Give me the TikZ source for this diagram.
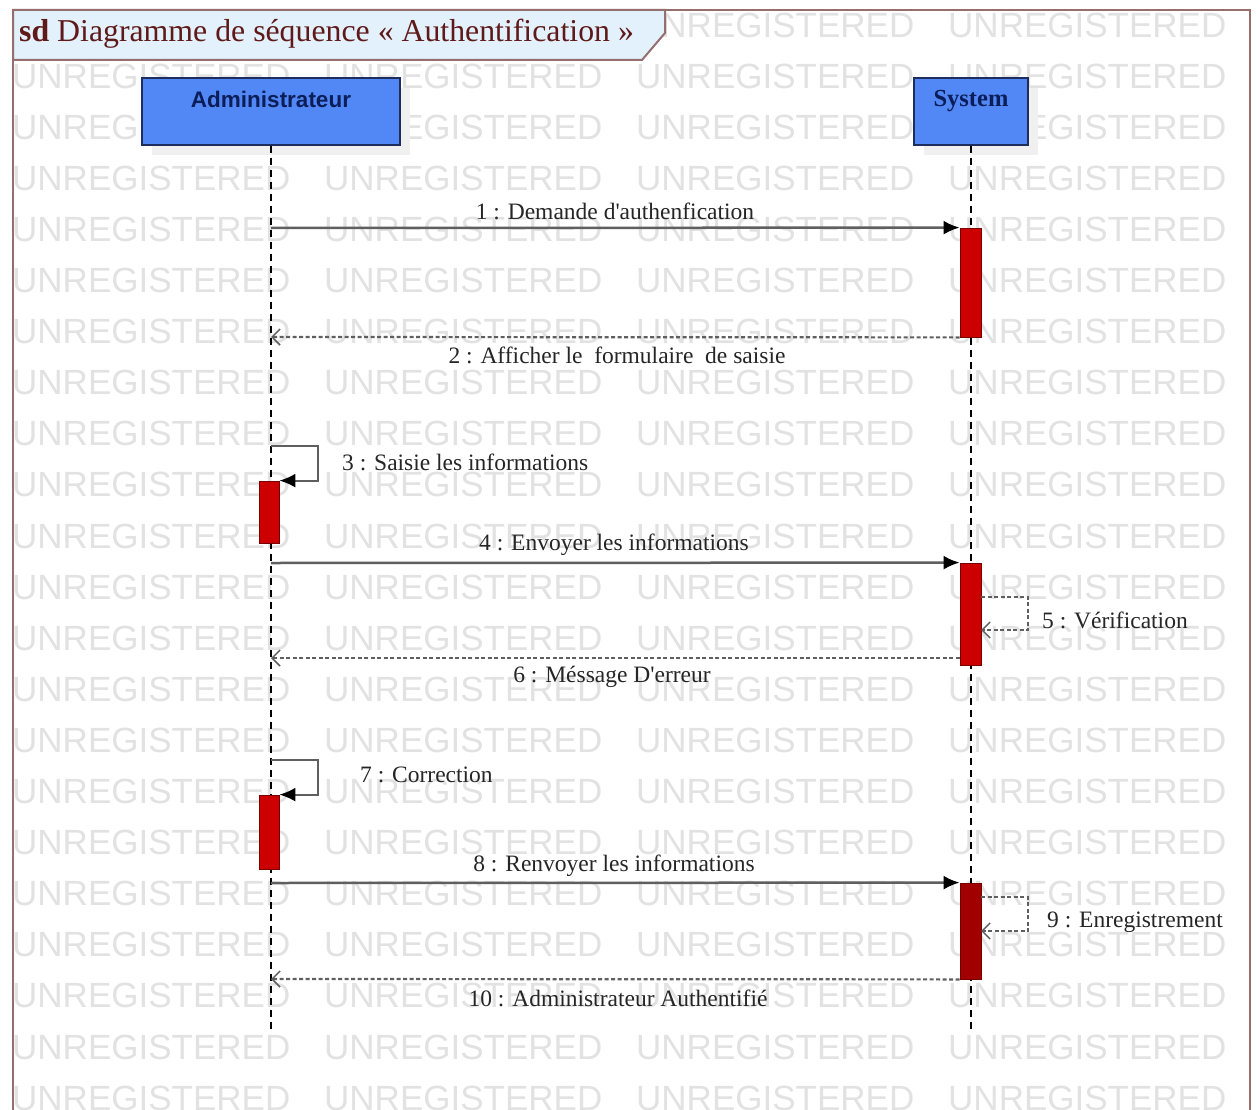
\documentclass[tikz,border=0pt]{standalone}
\usepackage{fontspec}
\usepackage{tikz}
\usetikzlibrary{arrows.meta,positioning,fit,calc}
\setmainfont{Liberation Serif}
\newfontfamily\lblfont{Liberation Serif}
\newfontfamily\boxfont{Liberation Sans}
\newfontfamily\wmfont{Liberation Sans}
\definecolor{framecol}{RGB}{150,110,110}
\definecolor{tabblue}{RGB}{226,241,251}
\definecolor{titlered}{RGB}{95,25,25}
\definecolor{boxblue}{RGB}{82,136,245}
\definecolor{boxline}{RGB}{30,45,90}
\definecolor{navy}{RGB}{12,30,90}
\definecolor{actred}{RGB}{204,0,0}
\definecolor{actdark}{RGB}{160,0,0}
\definecolor{actline}{RGB}{120,0,0}
\definecolor{msggray}{RGB}{95,95,95}
\definecolor{wmgray}{RGB}{226,226,226}

\begin{document}
\begin{tikzpicture}[x=1pt,y=-1pt,
  wmark/.style={anchor=west,inner sep=0,text=wmgray,font=\wmfont\fontsize{35}{38}\selectfont},
  actorbox/.style={draw=boxline,line width=1.5pt,fill=boxblue,minimum height=67pt,inner sep=0},
  lifeline/.style={black,line width=1.3pt,dash pattern=on 7pt off 5pt},
  actbar/.style={draw=actline,line width=0.8pt,fill=actred,inner sep=0},
  callmsg/.style={msggray,line width=2.5pt,-{Latex[length=16pt,width=14pt,color=black]}},
  retmsg/.style={msggray,line width=2.2pt,dash pattern=on 4pt off 2.5pt,
    -{Straight Barb[length=8pt,width=16pt,line width=1.5pt]}},
  msglabel/.style={inner sep=0,text=black!85,font=\lblfont\fontsize{23.5}{27}\selectfont}]
  \useasboundingbox (0,0) rectangle (1260,1110);
  \fill[white] (0,0) rectangle (1260,1110);

  % Watermark rows (top row is hidden by the tab on the left)
  \foreach \c in {2,3} {
    \node[wmark] (wm-0-\c) at ({12+312*\c},25) {UNREGISTERED};
  }
  \foreach \r in {1,...,21} {
    \foreach \c in {0,...,3} {
      \node[wmark] (wm-\r-\c) at ({12+312*\c},{25+51.1*\r}) {UNREGISTERED};
    }
  }

  % Frame and title tab
  \draw[framecol,line width=2pt] (13,1120) -- (13,10) -- (1250,10) -- (1250,1120);
  \draw[framecol,line width=2pt,fill=tabblue] (13,10) -- (665,10) -- (665,33) -- (642,60) -- (13,60) -- cycle;
  \node[anchor=west,inner sep=0,text=titlered,font=\fontsize{31.8}{36}\selectfont] (title) at (19,34)
    {\textbf{sd} Diagramme de séquence « Authentification »};

  % Lifeline heads
  \fill[black!6] (152,88) rectangle (410,155);
  \fill[black!6] (924,88) rectangle (1038,155);
  \node[actorbox,minimum width=258pt] (admin) at (271,111.5) {};
  \node[actorbox,minimum width=114pt] (sys) at (971,111.5) {};
  \node[inner sep=0,text=navy,font=\boxfont\bfseries\fontsize{22.5}{26}\selectfont] (admin-lbl)
    at ([yshift=12pt]admin.center) {Administrateur};
  \node[inner sep=0,text=navy,font=\bfseries\fontsize{24.5}{28}\selectfont] (sys-lbl)
    at ([yshift=10pt]sys.center) {System};

  % Lifelines
  \coordinate (admin-end) at (271,1033);
  \coordinate (sys-end) at (971,1033);
  \draw[lifeline] (admin.south) -- (admin-end);
  \draw[lifeline] (sys.south) -- (sys-end);

  % Activation bars
  \node[actbar,fit={(960,228) (981,337)}] (act1) {};
  \node[actbar,fit={(259,481) (279,543)}] (act2) {};
  \node[actbar,fit={(960,563) (981,665)}] (act3) {};
  \node[actbar,fit={(259,795) (279,869)}] (act4) {};
  \node[actbar,fill=actdark,fit={(960,883) (981,979)}] (act5) {};

  % Points on the admin lifeline
  \foreach \n/\y in {m1/228, m2/337, m3/446, m4/563, m6/658, m7/760, m8/883, m10/979} {
    \coordinate (adm-\n) at (271,\y);
  }
  \coordinate (sys-m5a) at (981,597);
  \coordinate (sys-m5b) at (981,630);
  \coordinate (sys-m9a) at (981,897);
  \coordinate (sys-m9b) at (981,931);

  % Messages
  \draw[callmsg] (adm-m1) -- (act1.north west);
  \draw[retmsg] (act1.south west) -- (adm-m2);
  \draw[callmsg,line width=2pt] (adm-m3) -- ++(47,0) |- (act2.north east);
  \draw[callmsg] (adm-m4) -- (act3.north west);
  \draw[retmsg] (sys-m5a) -- ++(47,0) |- (sys-m5b);
  \draw[retmsg] (act3.west |- adm-m6) -- (adm-m6);
  \draw[callmsg,line width=2pt] (adm-m7) -- ++(47,0) |- (act4.north east);
  \draw[callmsg] (adm-m8) -- (act5.north west);
  \draw[retmsg] (sys-m9a) -- ++(47,0) |- (sys-m9b);
  \draw[retmsg] (act5.south west) -- (adm-m10);

  % Message labels
  \node[msglabel] (lbl1) at (615,211) {1 : Demande d'authenfication};
  \node[msglabel] (lbl2) at (617,355) {2 : Afficher le\ \ formulaire\ \ de saisie};
  \node[msglabel,anchor=west] (lbl3) at (342,462) {3 : Saisie les informations};
  \node[msglabel] (lbl4) at (614,545) {4 : Envoyer les informations};
  \node[msglabel,anchor=west] (lbl5) at (1042,620) {5 : Vérification};
  \node[msglabel] (lbl6) at (612,677) {6 : Méssage D'erreur};
  \node[msglabel,anchor=west] (lbl7) at (360,775) {7 : Correction};
  \node[msglabel] (lbl8) at (614,866) {8 : Renvoyer les informations};
  \node[msglabel,anchor=west] (lbl9) at (1047,922) {9 : Enregistrement};
  \node[msglabel] (lbl10) at (618,998) {10 : Administrateur Authentifié};
\end{tikzpicture}
\end{document}
